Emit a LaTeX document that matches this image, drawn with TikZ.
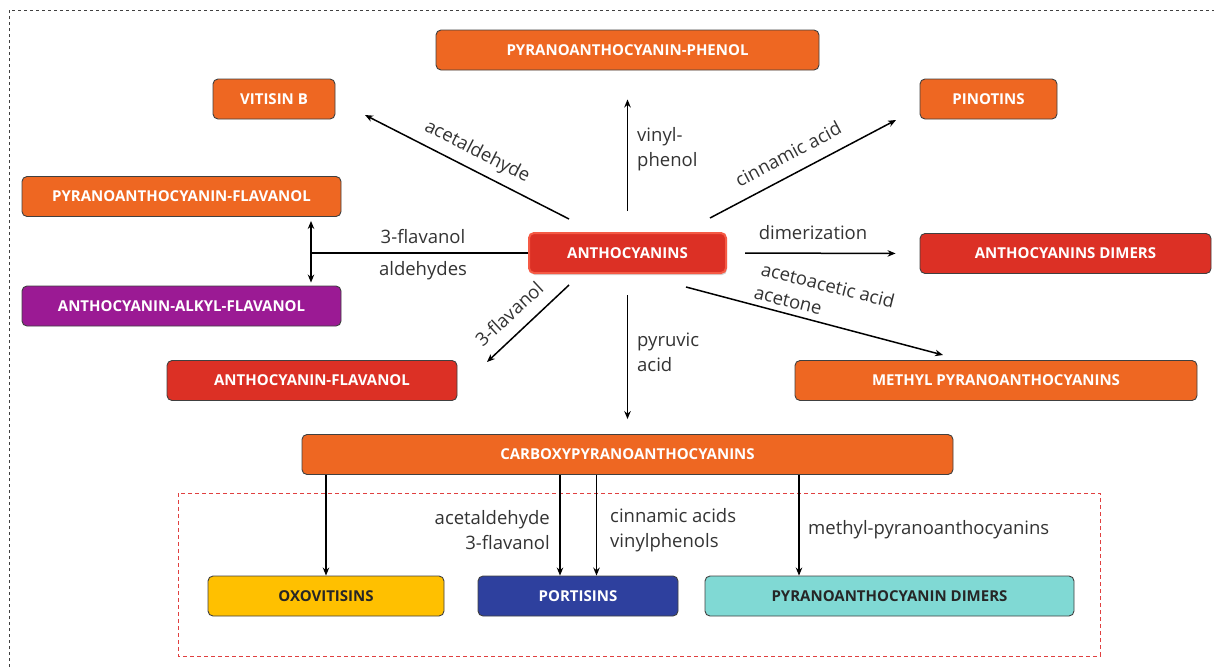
\documentclass[tikz,border=0pt]{standalone}
\usepackage{fontspec}
\setmainfont{Open Sans}
\usetikzlibrary{arrows.meta,shadows}
\definecolor{boxorange}{HTML}{EE6722}
\definecolor{boxred}{HTML}{DC3025}
\definecolor{boxpurple}{HTML}{9B1A94}
\definecolor{boxyellow}{HTML}{FFC000}
\definecolor{boxblue}{HTML}{2E409E}
\definecolor{boxteal}{HTML}{80D9D4}
\definecolor{boxline}{HTML}{404040}
\definecolor{anthoedge}{HTML}{F55A45}
\definecolor{lbltext}{HTML}{333333}
\definecolor{framered}{HTML}{E04040}
\tikzset{
	box/.style={rectangle, rounded corners=5pt, draw=boxline, line width=0.9pt, text=white, inner sep=0pt, minimum height=40pt, font=\bfseries\fontsize{15}{18}\selectfont},
	lbl/.style={text=lbltext, inner sep=0pt, font=\fontsize{18.5}{25}\selectfont},
	arr/.style={line width=1.5pt, -{Stealth[length=8pt,width=6.5pt]}},
}

\begin{document}
\begin{tikzpicture}[x=1pt, y=-1pt]
		%%%%% START %%%%%
		\useasboundingbox (0,0) rectangle (1214,667);
		\draw[dashed, black!75, line width=0.8pt] (9,667) -- (9,10) -- (1214,10);
		\draw[framered, line width=0.8pt, dash pattern=on 4pt off 3pt] (178,493) rectangle (1100,656);
		
		\node[box, fill=boxred, draw=anthoedge, line width=2pt, drop shadow={opacity=0.35, shadow xshift=1pt, shadow yshift=-2pt}, minimum width=197pt] (antho) at (627.5,253) {ANTHOCYANINS};
		
		\node[box, fill=boxorange, minimum width=383pt] (phenol) at (627.5,50) {PYRANOANTHOCYANIN-PHENOL};
		\node[box, fill=boxorange, minimum width=122pt] (vitisin) at (274,99) {VITISIN B};
		\node[box, fill=boxorange, minimum width=137pt] (pinotins) at (988.5,99) {PINOTINS};
		\node[box, fill=boxorange, minimum width=319pt] (pflav) at (181.5,196.5) {PYRANOANTHOCYANIN-FLAVANOL};
		\node[box, fill=boxpurple, minimum width=319pt] (alkyl) at (181.5,306) {ANTHOCYANIN-ALKYL-FLAVANOL};
		\node[box, fill=boxred, minimum width=291pt] (dimers) at (1065.5,253.5) {ANTHOCYANINS DIMERS};
		\node[box, fill=boxred, minimum width=290pt] (aflav) at (312,380.5) {ANTHOCYANIN-FLAVANOL};
		\node[box, fill=boxorange, minimum width=402pt] (methyl) at (996,380.5) {METHYL PYRANOANTHOCYANINS};
		\node[box, fill=boxorange, minimum width=651pt] (carboxy) at (627.5,454.5) {CARBOXYPYRANOANTHOCYANINS};
		
		\node[box, fill=boxyellow, text=black!85, minimum width=236pt] (oxo) at (326,596) {OXOVITISINS};
		\node[box, fill=boxblue, minimum width=200pt] (portisins) at (578,596) {PORTISINS};
		\node[box, fill=boxteal, text=black!85, minimum width=369pt] (pdimers) at (889.5,596) {PYRANOANTHOCYANIN DIMERS};
		
		% free arrow ends
		\coordinate (vitS) at (569,219);
		\coordinate (vitE) at (365,115);
		\coordinate (pinS) at (710,218);
		\coordinate (pinE) at (896,120);
		\coordinate (metS) at (686,287);
		\coordinate (metE) at (943,355);
		\coordinate (afS) at (569,285);
		\coordinate (afE) at (487,362);
		\coordinate (jn) at (311,253);
		
		\draw[arr] (vitS) -- (vitE);
		\node[lbl, rotate=-27] (lacet) at (477,152) {acetaldehyde};
		
		\draw[arr, shorten <=21pt, shorten >=29pt] (antho.north) -- (phenol.south);
		\node[lbl, anchor=west, align=left] (lvinyl) at (637,149) {vinyl-\\phenol};
		
		\draw[arr] (pinS) -- (pinE);
		\node[lbl, rotate=28] (lcinn) at (788,154) {cinnamic acid};
		
		\draw[arr, shorten <=18pt, shorten >=24pt] (antho.east) -- (dimers.west);
		\node[lbl] (ldim) at (813,233) {dimerization};
		
		\draw[arr] (metS) -- (metE);
		\node[lbl, rotate=-14] (lacac) at (828,285) {acetoacetic acid};
		\node[lbl, rotate=-14] (lacetone) at (788,301) {acetone};
		
		\draw[arr, shorten <=21pt, shorten >=15pt] (antho.south) -- (carboxy.north);
		\node[lbl, anchor=west, align=left] (lpyr) at (637,352) {pyruvic\\acid};
		
		\draw[arr] (afS) -- (afE);
		\node[lbl, rotate=43] (lflav) at (509,314) {3-flavanol};
		
		\draw[line width=1.5pt] (antho.west) -- (jn);
		\draw[line width=1.5pt, {Stealth[length=8pt,width=6.5pt]}-{Stealth[length=8pt,width=6.5pt]}, shorten <=4pt, shorten >=3pt] (jn |- pflav.south) -- (jn |- alkyl.north);
		\node[lbl] (lflav2) at (423,237) {3-flavanol};
		\node[lbl] (lald) at (423,271) {aldehydes};
		
		\draw[arr] (carboxy.south -| oxo.north) -- (oxo.north);
		\draw[arr] ([xshift=-18pt]portisins.north |- carboxy.south) -- ([xshift=-18pt]portisins.north);
		\draw[arr] ([xshift=18.5pt]portisins.north |- carboxy.south) -- ([xshift=18.5pt]portisins.north);
		\draw[arr] ([xshift=-90.5pt]pdimers.north |- carboxy.south) -- ([xshift=-90.5pt]pdimers.north);
		
		\node[lbl, anchor=east, align=right] (lport1) at (550,530) {acetaldehyde\\3-flavanol};
		\node[lbl, anchor=west, align=left] (lport2) at (610,530) {cinnamic acids\\vinylphenols};
		\node[lbl, anchor=west] (lpdim) at (808,530) {methyl-pyranoanthocyanins};
		
		%%%%% END %%%%%
	\end{tikzpicture}
\end{document}
